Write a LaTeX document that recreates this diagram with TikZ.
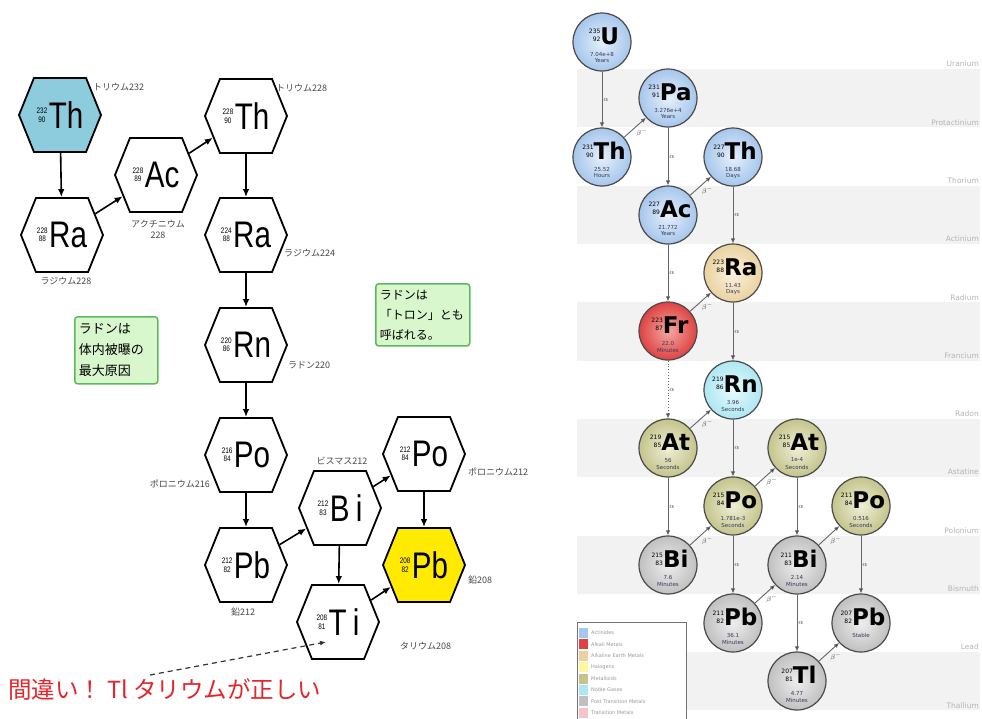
\documentclass[tikz,border=0pt]{standalone}
\usepackage{fontspec}
\setmainfont{Noto Sans CJK JP}
\newfontfamily\jpf{Noto Sans CJK JP}
\newfontfamily\hexf[FakeStretch=0.8]{Liberation Sans}
\newfontfamily\dvf{DejaVu Sans}
\usetikzlibrary{shapes.symbols,arrows.meta}
\definecolor{thblue}{HTML}{8CCCDC}
\definecolor{pbyellow}{HTML}{FFEA00}
\definecolor{notegreen}{HTML}{5DB85D}
\definecolor{notefill}{HTML}{D8F7CC}
\definecolor{wrongred}{HTML}{E3262B}
\definecolor{bandgray}{HTML}{F2F2F2}
\definecolor{bandtext}{HTML}{B4B4B4}
\definecolor{isoline}{HTML}{4A4A4A}
\definecolor{hltext}{HTML}{36385A}
\definecolor{actout}{HTML}{A6C6EC}\definecolor{actin}{HTML}{E6F0FB}
\definecolor{alkout}{HTML}{DE4242}\definecolor{alkin}{HTML}{F5A8A2}
\definecolor{aeout}{HTML}{EAD2A0}\definecolor{aein}{HTML}{FCF2DE}
\definecolor{ngout}{HTML}{ADE7F2}\definecolor{ngin}{HTML}{E8FBFE}
\definecolor{mlout}{HTML}{C4C48C}\definecolor{mlin}{HTML}{EFEFD6}
\definecolor{ptout}{HTML}{C0C0C0}\definecolor{ptin}{HTML}{EEEEEE}
\definecolor{halo}{HTML}{FFF7A0}
\definecolor{trans}{HTML}{F7C2CA}
\newcommand\hexiso[3]{\raisebox{6pt}{\fontsize{8}{8.5}\selectfont\begin{tabular}[b]{@{}c@{}}#1\\#2\end{tabular}}\hspace{1.5pt}#3}
\newcommand\isonum[2]{\raisebox{2.5pt}{\fontsize{6}{8}\selectfont\mdseries\begin{tabular}[b]{@{}r@{}}#1\\#2\end{tabular}}}
\newcommand\iso[9]{%
  \node[isocirc,#4] (#1) at (#2,#3) {};
  \node[isosym] (#1-s) at ([shift={(2,-6)}]#1.center) {\isonum{#5}{#6}\textbf{#7}};
  \node[isohl] (#1-t) at ([shift={(0,12)}]#1.center) {#8};
  \node[isohl] (#1-u) at ([shift={(0,19)}]#1.center) {#9};
}
\begin{document}
\begin{tikzpicture}[x=1pt,y=-1pt,
  hexbox/.style={signal, signal to=east and west, signal pointer angle=136,
    draw=black, line width=1.8pt, minimum width=82pt, minimum height=74pt,
    inner sep=0pt, fill=white, font=\hexf\fontsize{37}{37}\selectfont},
  hexarrow/.style={-{Latex[length=8pt,width=6.5pt]}, line width=1.6pt, black},
  hexlab/.style={font=\jpf\fontsize{9}{11}\selectfont, text=black!72, inner sep=0pt, align=center},
  note/.style={draw=notegreen, fill=notefill, line width=1.5pt, rounded corners=3pt,
    align=left, inner xsep=4pt, anchor=north west},
  isocirc/.style={circle, draw=isoline, line width=1.2pt, minimum size=58pt, inner sep=0pt},
  isosym/.style={font=\dvf\fontsize{23}{23}\selectfont, inner sep=0pt},
  isohl/.style={font=\dvf\fontsize{5.5}{6}\selectfont, text=hltext, inner sep=0pt},
  actc/.style={inner color=actin, outer color=actout},
  alkc/.style={inner color=alkin, outer color=alkout},
  aec/.style={inner color=aein, outer color=aeout},
  ngc/.style={inner color=ngin, outer color=ngout},
  mlc/.style={inner color=mlin, outer color=mlout},
  ptc/.style={inner color=ptin, outer color=ptout},
  aarrow/.style={draw=black!60, line width=0.9pt, -{Latex[length=5pt,width=4.5pt,fill=black]}},
  barrow/.style={draw=black!60, line width=0.9pt, -{Latex[length=5pt,width=4.5pt,fill=black]}},
  alab/.style={midway, right=1pt, font=\dvf\fontsize{7}{7}\selectfont, text=black!75, inner sep=0pt},
  blab/.style={midway, below right=0pt, font=\dvf\fontsize{7}{7}\selectfont, text=black!75, inner sep=1pt},
  bandlab/.style={font=\dvf\fontsize{7.5}{8}\selectfont, text=bandtext, anchor=east, inner sep=0pt},
  legtext/.style={font=\dvf\fontsize{5}{5}\selectfont, text=black!40, anchor=west, inner sep=0pt},
]
\fill[white] (0,0) rectangle (982,718);
\useasboundingbox (0,0) rectangle (982,718);

% ---------------- right panel: bands ----------------
\foreach \nm [count=\k from 0] in {Uranium,Protactinium,Thorium,Actinium,Radium,Francium,Radon,Astatine,Polonium,Bismuth,Lead,Thallium}{
  \pgfmathsetmacro\yc{40+58.3*\k}
  \ifodd\k
    \fill[bandgray] (577,\yc-29.15) rectangle (980,\yc+29.15);
  \fi
  \node[bandlab] (band\k) at (979,\yc+24) {\nm};
}

% ---------------- right panel: isotopes ----------------
\iso{u}{602}{42}{actc}{235}{92}{U}{7.04e+8}{Years}
\iso{pa}{668}{98}{actc}{231}{91}{Pa}{3.276e+4}{Years}
\iso{th231}{602}{157}{actc}{231}{90}{Th}{25.52}{Hours}
\iso{th227}{733}{157}{actc}{227}{90}{Th}{18.68}{Days}
\iso{ac}{668}{215}{actc}{227}{89}{Ac}{21.772}{Years}
\iso{ra}{733}{273}{aec}{223}{88}{Ra}{11.43}{Days}
\iso{fr}{668}{331}{alkc}{223}{87}{Fr}{22.0}{Minutes}
\iso{rn}{733}{390}{ngc}{219}{86}{Rn}{3.96}{Seconds}
\iso{at219}{668}{448}{mlc}{219}{85}{At}{56}{Seconds}
\iso{at215}{797}{448}{mlc}{215}{85}{At}{1e-4}{Seconds}
\iso{po215}{733}{506}{mlc}{215}{84}{Po}{1.781e-3}{Seconds}
\iso{po211}{861}{506}{mlc}{211}{84}{Po}{0.516}{Seconds}
\iso{bi215}{668}{565}{ptc}{215}{83}{Bi}{7.6}{Minutes}
\iso{bi211}{797}{565}{ptc}{211}{83}{Bi}{2.14}{Minutes}
\iso{pb211}{733}{623}{ptc}{211}{82}{Pb}{36.1}{Minutes}
\iso{pb207}{861}{623}{ptc}{207}{82}{Pb}{Stable}{}
\iso{tl207}{797}{681}{ptc}{207}{81}{Tl}{4.77}{Minutes}

\draw[aarrow] (u) -- node[alab]{$\alpha$} (th231);
\draw[barrow] (th231) -- node[blab]{$\beta^-$} (pa);
\draw[aarrow] (pa) -- node[alab]{$\alpha$} (ac);
\draw[barrow] (ac) -- node[blab]{$\beta^-$} (th227);
\draw[aarrow] (ac) -- node[alab]{$\alpha$} (fr);
\draw[aarrow] (th227) -- node[alab]{$\alpha$} (ra);
\draw[barrow] (fr) -- node[blab]{$\beta^-$} (ra);
\draw[aarrow] (ra) -- node[alab]{$\alpha$} (rn);
\draw[aarrow, dotted] (fr) -- node[alab]{$\alpha$} (at219);
\draw[barrow] (at219) -- node[blab]{$\beta^-$} (rn);
\draw[aarrow] (rn) -- node[alab]{$\alpha$} (po215);
\draw[aarrow] (at219) -- node[alab]{$\alpha$} (bi215);
\draw[barrow] (bi215) -- node[blab]{$\beta^-$} (po215);
\draw[barrow] (po215) -- node[blab]{$\beta^-$} (at215);
\draw[aarrow] (po215) -- node[alab]{$\alpha$} (pb211);
\draw[aarrow] (at215) -- node[alab]{$\alpha$} (bi211);
\draw[barrow] (pb211) -- node[blab]{$\beta^-$} (bi211);
\draw[barrow] (bi211) -- node[blab]{$\beta^-$} (po211);
\draw[aarrow] (bi211) -- node[alab]{$\alpha$} (tl207);
\draw[aarrow] (po211) -- node[alab]{$\alpha$} (pb207);
\draw[barrow] (tl207) -- node[blab]{$\beta^-$} (pb207);

% legend
\draw[black!55, line width=0.6pt, fill=white] (577,622) rectangle (686,722);
\foreach \c/\t [count=\i from 0] in {actout/Actinides,alkout/Alkali Metals,aeout/Alkaline Earth Metals,halo/Halogens,mlout/Metalloids,ngout/Noble Gases,ptout/Post Transition Metals,trans/Transition Metals}{
  \pgfmathsetmacro\ly{633+11.4*\i}
  \fill[\c] (579,\ly-5) rectangle (588,\ly+5);
  \node[legtext] (leg\i) at (591,\ly) {\t};
}

% ---------------- left panel: hexagons ----------------
\node[hexbox, fill=thblue] (th232) at (60,115) {\hexiso{232}{90}{Th}};
\node[hexbox] (ra228) at (62,235) {\hexiso{228}{88}{Ra}};
\node[hexbox] (ac228) at (156,175) {\hexiso{228}{89}{Ac}};
\node[hexbox] (th228) at (246,116) {\hexiso{228}{90}{Th}};
\node[hexbox] (ra224) at (246,235) {\hexiso{224}{88}{Ra}};
\node[hexbox] (rn220) at (246,345) {\hexiso{220}{86}{Rn}};
\node[hexbox] (po216) at (246,455) {\hexiso{216}{84}{Po}};
\node[hexbox] (pb212) at (246,565) {\hexiso{212}{82}{Pb}};
\node[hexbox] (bi212) at (340,508) {\hexiso{212}{83}{B\,i}};
\node[hexbox] (po212) at (424,454) {\hexiso{212}{84}{Po}};
\node[hexbox, fill=pbyellow] (pb208) at (424,565) {\hexiso{208}{82}{Pb}};
\node[hexbox] (ti208) at (338,622) {\hexiso{208}{81}{T\,i}};

\draw[hexarrow] (th232) -- (ra228);
\draw[hexarrow] (ra228) -- (ac228);
\draw[hexarrow] (ac228) -- (th228);
\draw[hexarrow] (th228) -- (ra224);
\draw[hexarrow] (ra224) -- (rn220);
\draw[hexarrow] (rn220) -- (po216);
\draw[hexarrow] (po216) -- (pb212);
\draw[hexarrow] (pb212) -- (bi212);
\draw[hexarrow] (bi212) -- (po212);
\draw[hexarrow] (bi212) -- (ti208);
\draw[hexarrow] (po212) -- (pb208);
\draw[hexarrow] (ti208) -- (pb208);

\node[hexlab, anchor=west] (l1) at (93,87) {トリウム232};
\node[hexlab] (l2) at (66,281) {ラジウム228};
\node[hexlab] (l3) at (158,229) {アクチニウム\\228};
\node[hexlab, anchor=west] (l4) at (276,88) {トリウム228};
\node[hexlab, anchor=west] (l5) at (284,253) {ラジウム224};
\node[hexlab, anchor=west] (l6) at (288,365) {ラドン220};
\node[hexlab, anchor=east] (l7) at (210,484) {ポロニウム216};
\node[hexlab] (l8) at (342,461) {ビスマス212};
\node[hexlab, anchor=west] (l9) at (468,472) {ポロニウム212};
\node[hexlab] (l10) at (243,612) {鉛212};
\node[hexlab, anchor=west] (l11) at (468,580) {鉛208};
\node[hexlab, anchor=west] (l12) at (400,646) {タリウム208};

% notes
\node[note, text width=75pt, inner ysep=7pt, font=\jpf\fontsize{13}{21}\selectfont] (note1) at (74,316) {ラドンは\\体内被曝の\\最大原因};
\node[note, text width=86pt, inner ysep=6pt, font=\jpf\fontsize{12}{20}\selectfont] (note2) at (375,283) {ラドンは\\「トロン」とも\\呼ばれる。};

% correction
\node[anchor=west, inner sep=0pt, text=wrongred, font=\jpf\fontsize{23.5}{25}\selectfont] (wrong) at (8,689) {間違い！ Tl タリウムが正しい};
\coordinate (wrongtail) at (150,675);
\coordinate (wrongtip) at (326,642);
\draw[black!80, line width=1.2pt, dash pattern=on 5pt off 4pt, -{Latex[length=6pt,width=5pt]}] (wrongtail) -- (wrongtip);
\end{tikzpicture}
\end{document}
